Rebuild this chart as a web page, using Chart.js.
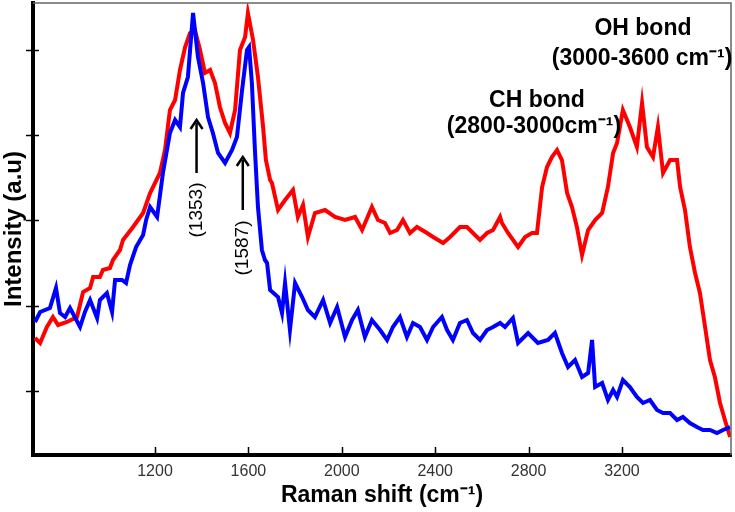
<!DOCTYPE html>
<html>
<head>
<meta charset="utf-8">
<title>Raman spectrum</title>
<script src="https://cdn.jsdelivr.net/npm/chart.js@4.4.0/dist/chart.umd.min.js"></script>
<style>
  html, body { margin: 0; padding: 0; background: #fff; }
  #wrap { width: 735px; height: 512px; }
</style>
</head>
<body>
<div id="wrap"><canvas id="raman" width="735" height="512"></canvas></div>
<script>
// values (x = Raman shift, y = intensity in arbitrary units)
const redX = [686, 708, 737, 763, 785, 823, 866, 892, 922, 935,
  964, 977, 1007, 1020, 1050, 1063, 1106, 1149, 1179, 1221,
  1243, 1264, 1286, 1307, 1329, 1350, 1371, 1393, 1414, 1436,
  1457, 1478, 1500, 1521, 1543, 1564, 1586, 1598, 1620, 1641,
  1663, 1675, 1693, 1701, 1727, 1757, 1791, 1812, 1834, 1855,
  1885, 1928, 1971, 2014, 2057, 2087, 2129, 2155, 2185, 2207,
  2237, 2262, 2292, 2322, 2365, 2391, 2434, 2464, 2506, 2536,
  2562, 2592, 2622, 2648, 2678, 2686, 2712, 2755, 2785, 2815,
  2836, 2858, 2879, 2900, 2922, 2943, 2965, 2986, 3007, 3029,
  3055, 3085, 3115, 3140, 3162, 3179, 3204, 3234, 3264, 3286,
  3307, 3333, 3354, 3376, 3406, 3436, 3449, 3470, 3491, 3513,
  3534, 3556, 3577, 3598, 3620, 3641, 3663];
const redY = [117, 112, 128, 138, 130, 133, 138, 163, 167, 178,
  178, 185, 187, 195, 205, 215, 228, 242, 262, 282,
  305, 345, 355, 385, 408, 422, 425, 405, 382, 385,
  372, 348, 332, 322, 345, 405, 418, 442, 415, 378,
  328, 295, 275, 272, 245, 255, 265, 238, 250, 218,
  242, 245, 238, 235, 238, 225, 248, 235, 232, 222,
  225, 235, 222, 228, 222, 218, 212, 218, 228, 228,
  222, 215, 222, 225, 238, 232, 222, 208, 218, 222,
  222, 268, 288, 298, 305, 295, 262, 248, 228, 200,
  225, 235, 242, 268, 302, 312, 345, 328, 308, 352,
  308, 298, 328, 282, 295, 295, 268, 245, 208, 182,
  162, 128, 95, 78, 52, 35, 18];

const blueX = [686, 708, 750, 776, 793, 815, 836, 879, 900, 922,
  952, 964, 994, 1016, 1029, 1059, 1076, 1093, 1119, 1149,
  1162, 1179, 1209, 1234, 1264, 1286, 1307, 1320, 1341, 1363,
  1384, 1406, 1427, 1448, 1470, 1500, 1530, 1551, 1573, 1594,
  1603, 1615, 1628, 1641, 1658, 1671, 1680, 1693, 1727, 1744,
  1757, 1778, 1800, 1830, 1855, 1885, 1920, 1950, 1980, 2014,
  2044, 2069, 2099, 2129, 2164, 2194, 2219, 2249, 2279, 2305,
  2335, 2365, 2391, 2429, 2451, 2476, 2506, 2536, 2562, 2592,
  2622, 2648, 2678, 2699, 2733, 2755, 2798, 2840, 2883, 2913,
  2943, 2969, 2999, 3029, 3055, 3072, 3085, 3115, 3140, 3162,
  3179, 3204, 3234, 3264, 3290, 3320, 3350, 3376, 3406, 3436,
  3461, 3491, 3521, 3547, 3577, 3607, 3633, 3663];
const blueY = [133, 143, 147, 167, 142, 138, 147, 128, 143, 155,
  137, 155, 162, 143, 175, 175, 172, 190, 208, 220,
  235, 248, 238, 282, 322, 335, 328, 362, 378, 442,
  398, 372, 338, 322, 302, 292, 305, 318, 365, 405,
  408, 372, 305, 248, 205, 195, 192, 165, 158, 142,
  172, 125, 172, 158, 145, 138, 155, 132, 148, 118,
  135, 145, 118, 135, 125, 115, 128, 138, 118, 132,
  128, 115, 128, 138, 125, 115, 132, 135, 122, 115,
  125, 128, 132, 128, 137, 112, 122, 112, 115, 122,
  102, 88, 95, 78, 82, 115, 68, 72, 55, 65,
  58, 75, 68, 58, 52, 55, 45, 42, 42, 35,
  38, 32, 28, 25, 25, 22, 25, 28];

const xTicks = [1200, 1600, 2000, 2400, 2800, 3200];
const yTicks = [64, 149, 235, 320, 405];
const xRange = [677.5, 3667];
const yRange = [0, 452];

const FONT = '"Liberation Sans", Arial, sans-serif';

function toPoints(xs, ys) {
  return xs.map((x, i) => ({ x: x, y: ys[i] }));
}

// arrow pointing up, text rotated underneath it
function drawPeakMark(ctx, px, tipY, baseY, label, textY) {
  ctx.strokeStyle = '#000';
  ctx.fillStyle = '#000';
  ctx.lineWidth = 2.5;
  ctx.beginPath();
  ctx.moveTo(px, baseY);
  ctx.lineTo(px, tipY + 3);
  ctx.stroke();
  ctx.beginPath();
  ctx.moveTo(px - 6, tipY + 9);
  ctx.lineTo(px, tipY);
  ctx.lineTo(px + 6, tipY + 9);
  ctx.stroke();

  ctx.save();
  ctx.translate(px, textY);
  ctx.rotate(-Math.PI / 2);
  ctx.font = '19px ' + FONT;
  ctx.textAlign = 'center';
  ctx.textBaseline = 'middle';
  ctx.fillText(label, 0, 0);
  ctx.restore();
}

const decorPlugin = {
  id: 'decor',
  afterDraw(chart) {
    const ctx = chart.ctx;
    const a = chart.chartArea;
    const x = chart.scales.x;
    const y = chart.scales.y;
    ctx.save();

    // thin frame on top and right
    ctx.strokeStyle = '#666';
    ctx.lineWidth = 1.5;
    ctx.beginPath();
    ctx.moveTo(a.left, a.top);
    ctx.lineTo(a.right, a.top);
    ctx.lineTo(a.right, a.bottom);
    ctx.stroke();

    // tick marks
    ctx.strokeStyle = '#000';
    ctx.lineWidth = 1.5;
    ctx.beginPath();
    xTicks.forEach(v => {
      const px = Math.round(x.getPixelForValue(v)) + 0.5;
      ctx.moveTo(px, a.bottom - 8);
      ctx.lineTo(px, a.bottom + 2);
    });
    yTicks.forEach(v => {
      const py = Math.round(y.getPixelForValue(v)) + 0.5;
      ctx.moveTo(a.left - 7, py);
      ctx.lineTo(a.left + 6, py);
    });
    ctx.stroke();

    // peak markers
    drawPeakMark(ctx, x.getPixelForValue(1378), y.getPixelForValue(335),
      y.getPixelForValue(282), '(1353)', y.getPixelForValue(245));
    drawPeakMark(ctx, x.getPixelForValue(1576), y.getPixelForValue(298),
      y.getPixelForValue(245), '(1587)', y.getPixelForValue(207));

    // bond labels
    ctx.fillStyle = '#000';
    ctx.font = 'bold 23px ' + FONT;
    ctx.textAlign = 'center';
    ctx.textBaseline = 'middle';
    ctx.fillText('OH bond', x.getPixelForValue(3290), y.getPixelForValue(426));
    ctx.fillText('(3000-3600 cm\u207B\u00B9)', x.getPixelForValue(3286), y.getPixelForValue(396));
    ctx.fillText('CH bond', x.getPixelForValue(2836), y.getPixelForValue(354));
    ctx.fillText('(2800-3000cm\u207B\u00B9)', x.getPixelForValue(2823), y.getPixelForValue(328));

    ctx.restore();
  }
};

new Chart(document.getElementById('raman'), {
  type: 'line',
  data: {
    datasets: [
      {
        label: 'blue',
        data: toPoints(blueX, blueY),
        borderColor: '#0000ff',
        borderWidth: 4,
        pointRadius: 0,
        tension: 0
      },
      {
        label: 'red',
        data: toPoints(redX, redY),
        borderColor: '#ff0000',
        borderWidth: 4,
        pointRadius: 0,
        tension: 0
      }
    ]
  },
  options: {
    responsive: false,
    animation: false,
    events: [],
    layout: { padding: { left: 0, top: 3, right: 4, bottom: 0 } },
    plugins: {
      legend: { display: false },
      tooltip: { enabled: false }
    },
    scales: {
      x: {
        type: 'linear',
        min: xRange[0],
        max: xRange[1],
        afterBuildTicks: s => { s.ticks = xTicks.map(v => ({ value: v })); },
        afterFit: s => { s.height = 57; },
        grid: { display: false, drawTicks: false },
        border: { display: true, color: '#000', width: 4 },
        ticks: {
          color: '#333',
          font: { family: FONT, size: 16 },
          padding: 7,
          maxRotation: 0,
          callback: v => String(v)
        },
        title: {
          display: true,
          text: 'Raman shift (cm\u207B\u00B9)',
          color: '#000',
          font: { family: FONT, size: 23, weight: 'bold' },
          padding: { top: 0, bottom: 3 }
        }
      },
      y: {
        min: yRange[0],
        max: yRange[1],
        afterBuildTicks: s => { s.ticks = yTicks.map(v => ({ value: v })); },
        afterFit: s => { s.width = 33; },
        grid: { display: false, drawTicks: false },
        border: { display: true, color: '#000', width: 4 },
        ticks: { display: false },
        title: {
          display: true,
          text: 'Intensity (a.u)',
          color: '#000',
          font: { family: FONT, size: 24, weight: 'bold' },
          padding: { top: 0, bottom: 0 }
        }
      }
    }
  },
  plugins: [decorPlugin]
});
</script>
</body>
</html>
